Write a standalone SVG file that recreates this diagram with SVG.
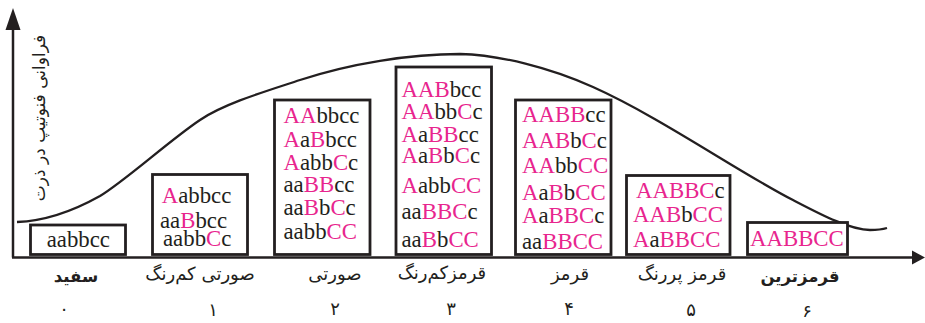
<svg xmlns="http://www.w3.org/2000/svg" width="925" height="323" viewBox="0 0 925 323">
<style>
.bx{fill:#fff;stroke:#231f20;stroke-width:2.8}
.g{font-family:'Liberation Serif','Times New Roman',serif;font-size:22.8px;fill:#231f20}
.p{fill:#e8258e}
.lb{font-family:'DejaVu Sans',sans-serif;font-size:18px;fill:#231f20;text-anchor:middle}
.bd{font-weight:bold;font-size:16.5px}
.ax{stroke:#231f20;stroke-width:2.5;fill:none}
</style>
<rect width="925" height="323" fill="#fff"/>
<g id="connectors">
<line class="ax" x1="13" y1="257.5" x2="13" y2="26"/>
<polygon points="13,8 5.5,30 20.5,30" fill="#231f20"/>
<line class="ax" x1="12" y1="257.5" x2="914" y2="257.5"/>
<polygon points="925,257.5 912,250.5 912,264.5" fill="#231f20"/>
<path d="M17,222 C45,221 75,210 100,196 C125,181 170,140 200,120 C225,103 270,90 300,80 C350,63.5 410,54 460,54 C500,55 550,67.6 593,87 C660,117 740,173 793,200 C820,214 850,230 870,230 C878,230 882,229.5 887,228" fill="none" stroke="#231f20" stroke-width="2.3"/>
</g>
<text class="lb" style="font-size:17px" transform="translate(45,118) rotate(-90)">فراوانی فنوتیپ در ذرت</text>
<g id="n0">
<rect class="bx" x="30.5" y="225" width="95" height="29.5"/>
<text class="g" x="46.7" y="247">aabbcc</text>
<text class="lb bd" x="76" y="282">سفید</text>
<text class="lb" x="64" y="315">۰</text>
</g>
<g id="n1">
<rect class="bx" x="152.5" y="174.5" width="95" height="80"/>
<text class="g" x="161.7" y="203"><tspan class="p">A</tspan>abbcc</text>
<text class="g" x="160" y="228">aa<tspan class="p">B</tspan>bcc</text>
<text class="g" x="163" y="246">aabb<tspan class="p">C</tspan>c</text>
<text class="lb" x="200" y="280">صورتی کم&#x200C;رنگ</text>
<text class="lb" x="213" y="316">۱</text>
</g>
<g id="n2">
<rect class="bx" x="274.5" y="100" width="95.5" height="154.5"/>
<text class="g" x="283.5" y="123"><tspan class="p">AA</tspan>bbcc</text>
<text class="g" x="283.5" y="147"><tspan class="p">A</tspan>a<tspan class="p">B</tspan>bcc</text>
<text class="g" x="283.5" y="170"><tspan class="p">A</tspan>abb<tspan class="p">C</tspan>c</text>
<text class="g" x="283.5" y="192">aa<tspan class="p">BB</tspan>cc</text>
<text class="g" x="283.5" y="215">aa<tspan class="p">B</tspan>b<tspan class="p">C</tspan>c</text>
<text class="g" x="283.5" y="239">aabb<tspan class="p">CC</tspan></text>
<text class="lb" x="335" y="280">صورتی</text>
<text class="lb" x="335" y="315">۲</text>
</g>
<g id="n3">
<rect class="bx" x="396" y="67" width="95.5" height="187.5"/>
<text class="g" x="401.5" y="97"><tspan class="p">AAB</tspan>bcc</text>
<text class="g" x="401.5" y="119"><tspan class="p">AA</tspan>bb<tspan class="p">C</tspan>c</text>
<text class="g" x="401.5" y="141.5"><tspan class="p">A</tspan>a<tspan class="p">BB</tspan>cc</text>
<text class="g" x="401.5" y="163"><tspan class="p">A</tspan>a<tspan class="p">B</tspan>b<tspan class="p">C</tspan>c</text>
<text class="g" x="401.5" y="193"><tspan class="p">A</tspan>abb<tspan class="p">CC</tspan></text>
<text class="g" x="401.5" y="219">aa<tspan class="p">BBC</tspan>c</text>
<text class="g" x="401.5" y="246.5">aa<tspan class="p">B</tspan>b<tspan class="p">CC</tspan></text>
<text class="lb" x="442" y="279">قرمزکم&#x200C;رنگ</text>
<text class="lb" x="451" y="315">۳</text>
</g>
<g id="n4">
<rect class="bx" x="515.5" y="100" width="95.5" height="154.5"/>
<text class="g" x="522" y="122"><tspan class="p">AABB</tspan>cc</text>
<text class="g" x="522" y="148"><tspan class="p">AAB</tspan>b<tspan class="p">C</tspan>c</text>
<text class="g" x="522" y="172.7"><tspan class="p">AA</tspan>bb<tspan class="p">CC</tspan></text>
<text class="g" x="522" y="200"><tspan class="p">A</tspan>a<tspan class="p">B</tspan>b<tspan class="p">CC</tspan></text>
<text class="g" x="522" y="223"><tspan class="p">A</tspan>a<tspan class="p">BBC</tspan>c</text>
<text class="g" x="522" y="249">aa<tspan class="p">BBCC</tspan></text>
<text class="lb" x="570" y="280">قرمز</text>
<text class="lb" x="569" y="315">۴</text>
</g>
<g id="n5">
<rect class="bx" x="626.5" y="175.5" width="103.5" height="79"/>
<text class="g" x="636" y="198"><tspan class="p">AABBC</tspan>c</text>
<text class="g" x="633" y="221.7"><tspan class="p">AAB</tspan>b<tspan class="p">CC</tspan></text>
<text class="g" x="633" y="246.7"><tspan class="p">A</tspan>a<tspan class="p">BBCC</tspan></text>
<text class="lb" x="682" y="280">قرمز پررنگ</text>
<text class="lb" x="691" y="316">۵</text>
</g>
<g id="n6">
<rect class="bx" x="747.5" y="222.5" width="100" height="32"/>
<text class="g" x="750" y="246"><tspan class="p">AABBCC</tspan></text>
<text class="lb bd" x="800" y="282">قرمزترین</text>
<text class="lb" x="807" y="317">۶</text>
</g>
</svg>
